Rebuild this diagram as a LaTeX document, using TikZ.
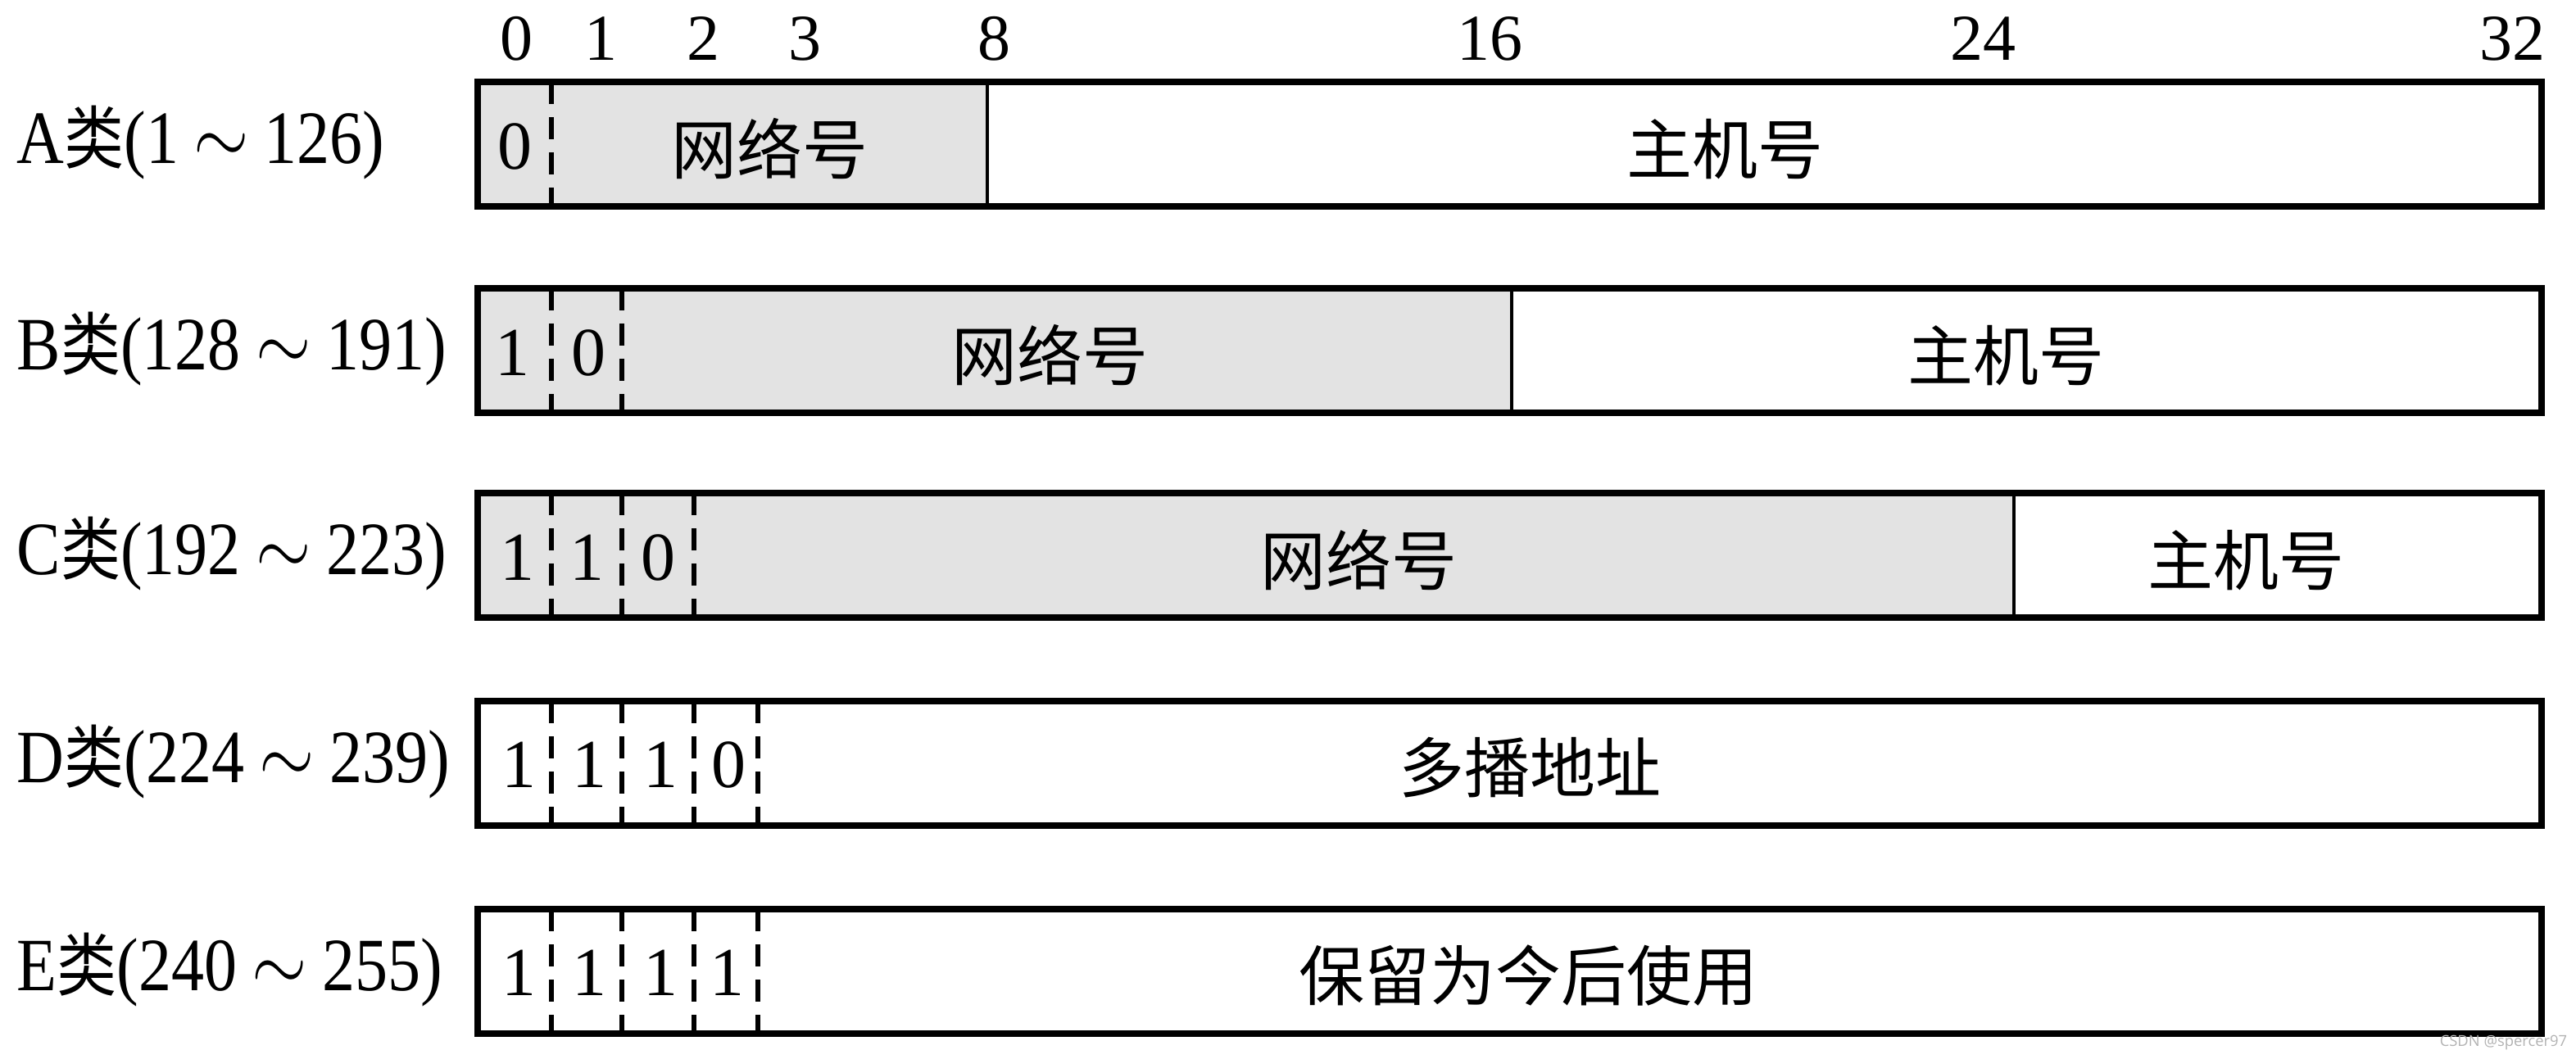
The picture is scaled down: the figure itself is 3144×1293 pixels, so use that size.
\documentclass[tikz,border=0pt]{standalone}
\usepackage{fontspec}
\setmainfont{Liberation Serif}
\newfontfamily\lblfont{Liberation Serif}[FakeStretch=0.87]
\newfontfamily\cjk{Noto Sans CJK SC}
\newfontfamily\cjklbl{Noto Sans CJK SC}[FakeStretch=0.87]
\newfontfamily\wmfont{Open Sans}
\definecolor{netgray}{RGB}{227,227,227}
\newcommand{\lei}{{\cjklbl\fontsize{21}{21}\selectfont 类}}
\newcommand{\tld}{\kern0.2em\scalebox{0.87}[1]{$\sim$}\kern0.2em}
\begin{document}
\begin{tikzpicture}[x=0.25pt,y=-0.25pt,
  frame/.style={line width=2pt},
  sep/.style={line width=1.35pt, dash pattern=on 6.75pt off 4pt},
  div/.style={line width=1.2pt},
  bitnum/.style={font=\fontsize{20}{20}\selectfont, inner sep=0pt},
  bit/.style={font=\fontsize{21}{21}\selectfont, inner sep=0pt},
  field/.style={font=\cjk\fontsize{20}{20}\selectfont, inner sep=0pt},
  cls/.style={font=\lblfont\fontsize{23}{23}\selectfont, anchor=west, inner sep=0pt}
]
\useasboundingbox (0,0) rectangle (3144,1293);

% bit numbers
\node[bitnum] (n0) at (630,47) {0};
\node[bitnum] (n1) at (733,47) {1};
\node[bitnum] (n2) at (858,47) {2};
\node[bitnum] (n3) at (982,47) {3};
\node[bitnum] (n8) at (1213,47) {8};
\node[bitnum] (n16) at (1818,47) {16};
\node[bitnum] (n24) at (2420,47) {24};
\node[bitnum] (n32) at (3066,47) {32};

% class labels
\node[cls] (la) at (20,174) {A\lei(1\tld126)};
\node[cls] (lb) at (20,426) {B\lei(128\tld191)};
\node[cls] (lc) at (20,676) {C\lei(192\tld223)};
\node[cls] (ld) at (20,930) {D\lei(224\tld239)};
\node[cls] (le) at (20,1184) {E\lei(240\tld255)};

% Row A
\fill[netgray] (583,100) rectangle (1205,252);
\draw[sep] (673,100) -- (673,252);
\draw[div] (1205,100) -- (1205,252);
\draw[frame] (583,100) rectangle (3102,252);
\node[bit] (a0) at (628,179) {0};
\node[field] (anet) at (939,182) {网络号};
\node[field] (ahost) at (2105,182) {主机号};

% Row B
\fill[netgray] (583,352) rectangle (1845,504);
\draw[sep] (673,352) -- (673,504);
\draw[sep] (759,352) -- (759,504);
\draw[div] (1845,352) -- (1845,504);
\draw[frame] (583,352) rectangle (3102,504);
\node[bit] (b0) at (625,431) {1};
\node[bit] (b1) at (718,431) {0};
\node[field] (bnet) at (1281,434) {网络号};
\node[field] (bhost) at (2448,434) {主机号};

% Row C
\fill[netgray] (583,602) rectangle (2458,754);
\draw[sep] (673,602) -- (673,754);
\draw[sep] (759,602) -- (759,754);
\draw[sep] (847,602) -- (847,754);
\draw[div] (2458,602) -- (2458,754);
\draw[frame] (583,602) rectangle (3102,754);
\node[bit] (c0) at (631,681) {1};
\node[bit] (c1) at (716,681) {1};
\node[bit] (c2) at (803,681) {0};
\node[field] (cnet) at (1658,684) {网络号};
\node[field] (chost) at (2741,684) {主机号};

% Row D
\draw[sep] (673,856) -- (673,1008);
\draw[sep] (759,856) -- (759,1008);
\draw[sep] (847,856) -- (847,1008);
\draw[sep] (925,856) -- (925,1008);
\draw[frame] (583,856) rectangle (3102,1008);
\node[bit] (d0) at (633,934) {1};
\node[bit] (d1) at (719,934) {1};
\node[bit] (d2) at (806,934) {1};
\node[bit] (d3) at (889,934) {0};
\node[field] (dmc) at (1867,937) {多播地址};

% Row E
\draw[sep] (673,1110) -- (673,1262);
\draw[sep] (759,1110) -- (759,1262);
\draw[sep] (847,1110) -- (847,1262);
\draw[sep] (925,1110) -- (925,1262);
\draw[frame] (583,1110) rectangle (3102,1262);
\node[bit] (e0) at (633,1188) {1};
\node[bit] (e1) at (719,1188) {1};
\node[bit] (e2) at (806,1188) {1};
\node[bit] (e3) at (887,1188) {1};
\node[field] (ers) at (1865,1191) {保留为今后使用};

% watermark
\node[font=\wmfont\fontsize{4.6}{5}\selectfont, text=gray!60, anchor=base east, inner sep=0pt] (wm) at (3134,1277) {CSDN @spercer97};
\end{tikzpicture}
\end{document}
